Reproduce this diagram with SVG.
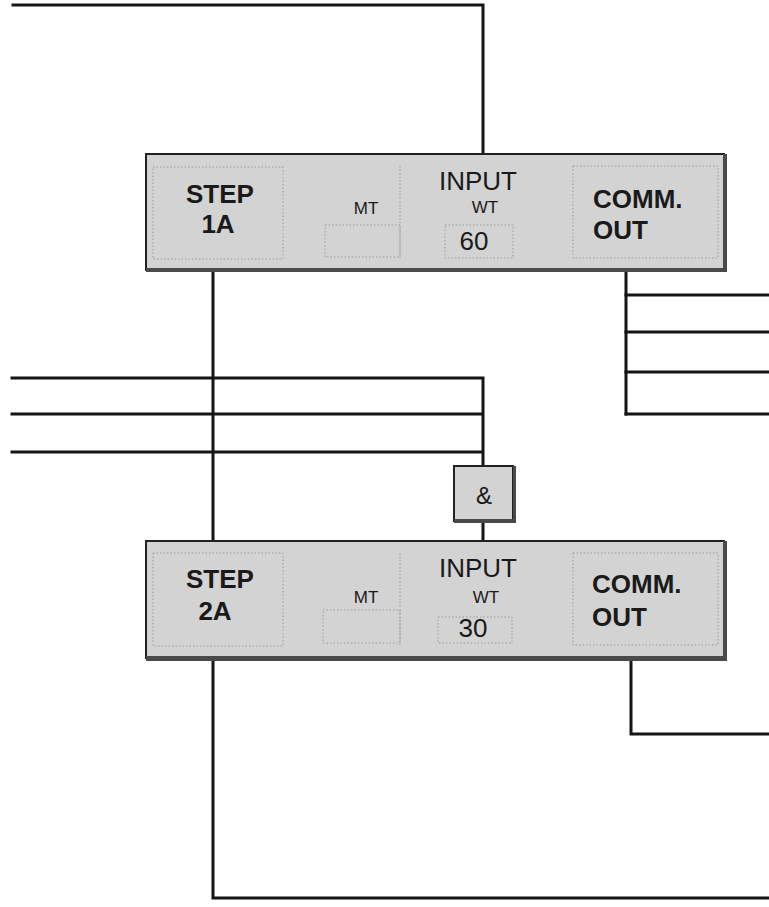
<svg xmlns="http://www.w3.org/2000/svg" width="769" height="907" viewBox="0 0 769 907">
<style>
.wire{fill:none;stroke:#151515;stroke-width:3;stroke-linecap:square}
.box{fill:#d3d3d3;stroke:#222;stroke-width:2}
.shadow{fill:#4a4a4a}
.cell{fill:none;stroke:#9a9a9a;stroke-width:1;stroke-dasharray:1.5 2}
.t{font-family:"Liberation Sans",Arial,sans-serif;fill:#1a1a1a;text-anchor:middle}
.big{font-size:26px;font-weight:bold}
.mid{font-size:26px}
.sm{font-size:17px}
.amp{font-size:24px}
.lft{text-anchor:start}
</style>
<rect width="769" height="907" fill="#ffffff"/>
<g id="connectors">
<path class="wire" d="M13,5 H483 V153"/>
<path class="wire" d="M213,271 V540"/>
<path class="wire" d="M626,271 V414"/>
<path class="wire" d="M626,295 H769 M626,332 H769 M626,372 H769 M626,414 H769"/>
<path class="wire" d="M12,378 H483 V466 M12,414 H483 M12,452 H483"/>
<path class="wire" d="M483,523 V540"/>
<path class="wire" d="M213,661 V898 H769"/>
<path class="wire" d="M631,661 V734 H769"/>
</g>
<g id="step1a">
<rect class="box" x="146" y="154" width="578" height="116"/>
<rect class="shadow" x="146" y="268" width="581" height="4"/>
<rect class="shadow" x="723" y="154" width="4" height="118"/>
<rect class="cell" x="153" y="167" width="130" height="92"/>
<line class="cell" x1="400" y1="166" x2="400" y2="258"/>
<rect class="cell" x="325" y="225" width="75" height="32"/>
<rect class="cell" x="445" y="225" width="68" height="33"/>
<rect class="cell" x="573" y="166" width="145" height="92"/>
<text class="t big" x="220" y="203">STEP</text>
<text class="t big" x="218" y="233">1A</text>
<text class="t sm" x="366" y="214">MT</text>
<text class="t mid" x="478" y="190">INPUT</text>
<text class="t sm" x="485" y="213">WT</text>
<text class="t mid" x="474" y="250">60</text>
<text class="t big lft" x="593" y="208">COMM.</text>
<text class="t big lft" x="593" y="239">OUT</text>
</g>
<g id="and">
<rect class="box" x="454" y="466" width="59" height="55"/>
<rect class="shadow" x="454" y="519" width="62" height="4"/>
<rect class="shadow" x="513" y="466" width="3" height="57"/>
<text class="t amp" x="484" y="504">&amp;</text>
</g>
<g id="step2a">
<rect class="box" x="146" y="541" width="578" height="117"/>
<rect class="shadow" x="146" y="656" width="581" height="5"/>
<rect class="shadow" x="723" y="541" width="4" height="120"/>
<rect class="cell" x="153" y="553" width="130" height="93"/>
<line class="cell" x1="400" y1="553" x2="400" y2="645"/>
<rect class="cell" x="323" y="610" width="77" height="33"/>
<rect class="cell" x="438" y="617" width="74" height="26"/>
<rect class="cell" x="573" y="553" width="145" height="92"/>
<text class="t big" x="220" y="588">STEP</text>
<text class="t big" x="215" y="620">2A</text>
<text class="t sm" x="366" y="603">MT</text>
<text class="t mid" x="478" y="577">INPUT</text>
<text class="t sm" x="486" y="603">WT</text>
<text class="t mid" x="473" y="637">30</text>
<text class="t big lft" x="592" y="593">COMM.</text>
<text class="t big lft" x="592" y="626">OUT</text>
</g>
</svg>
